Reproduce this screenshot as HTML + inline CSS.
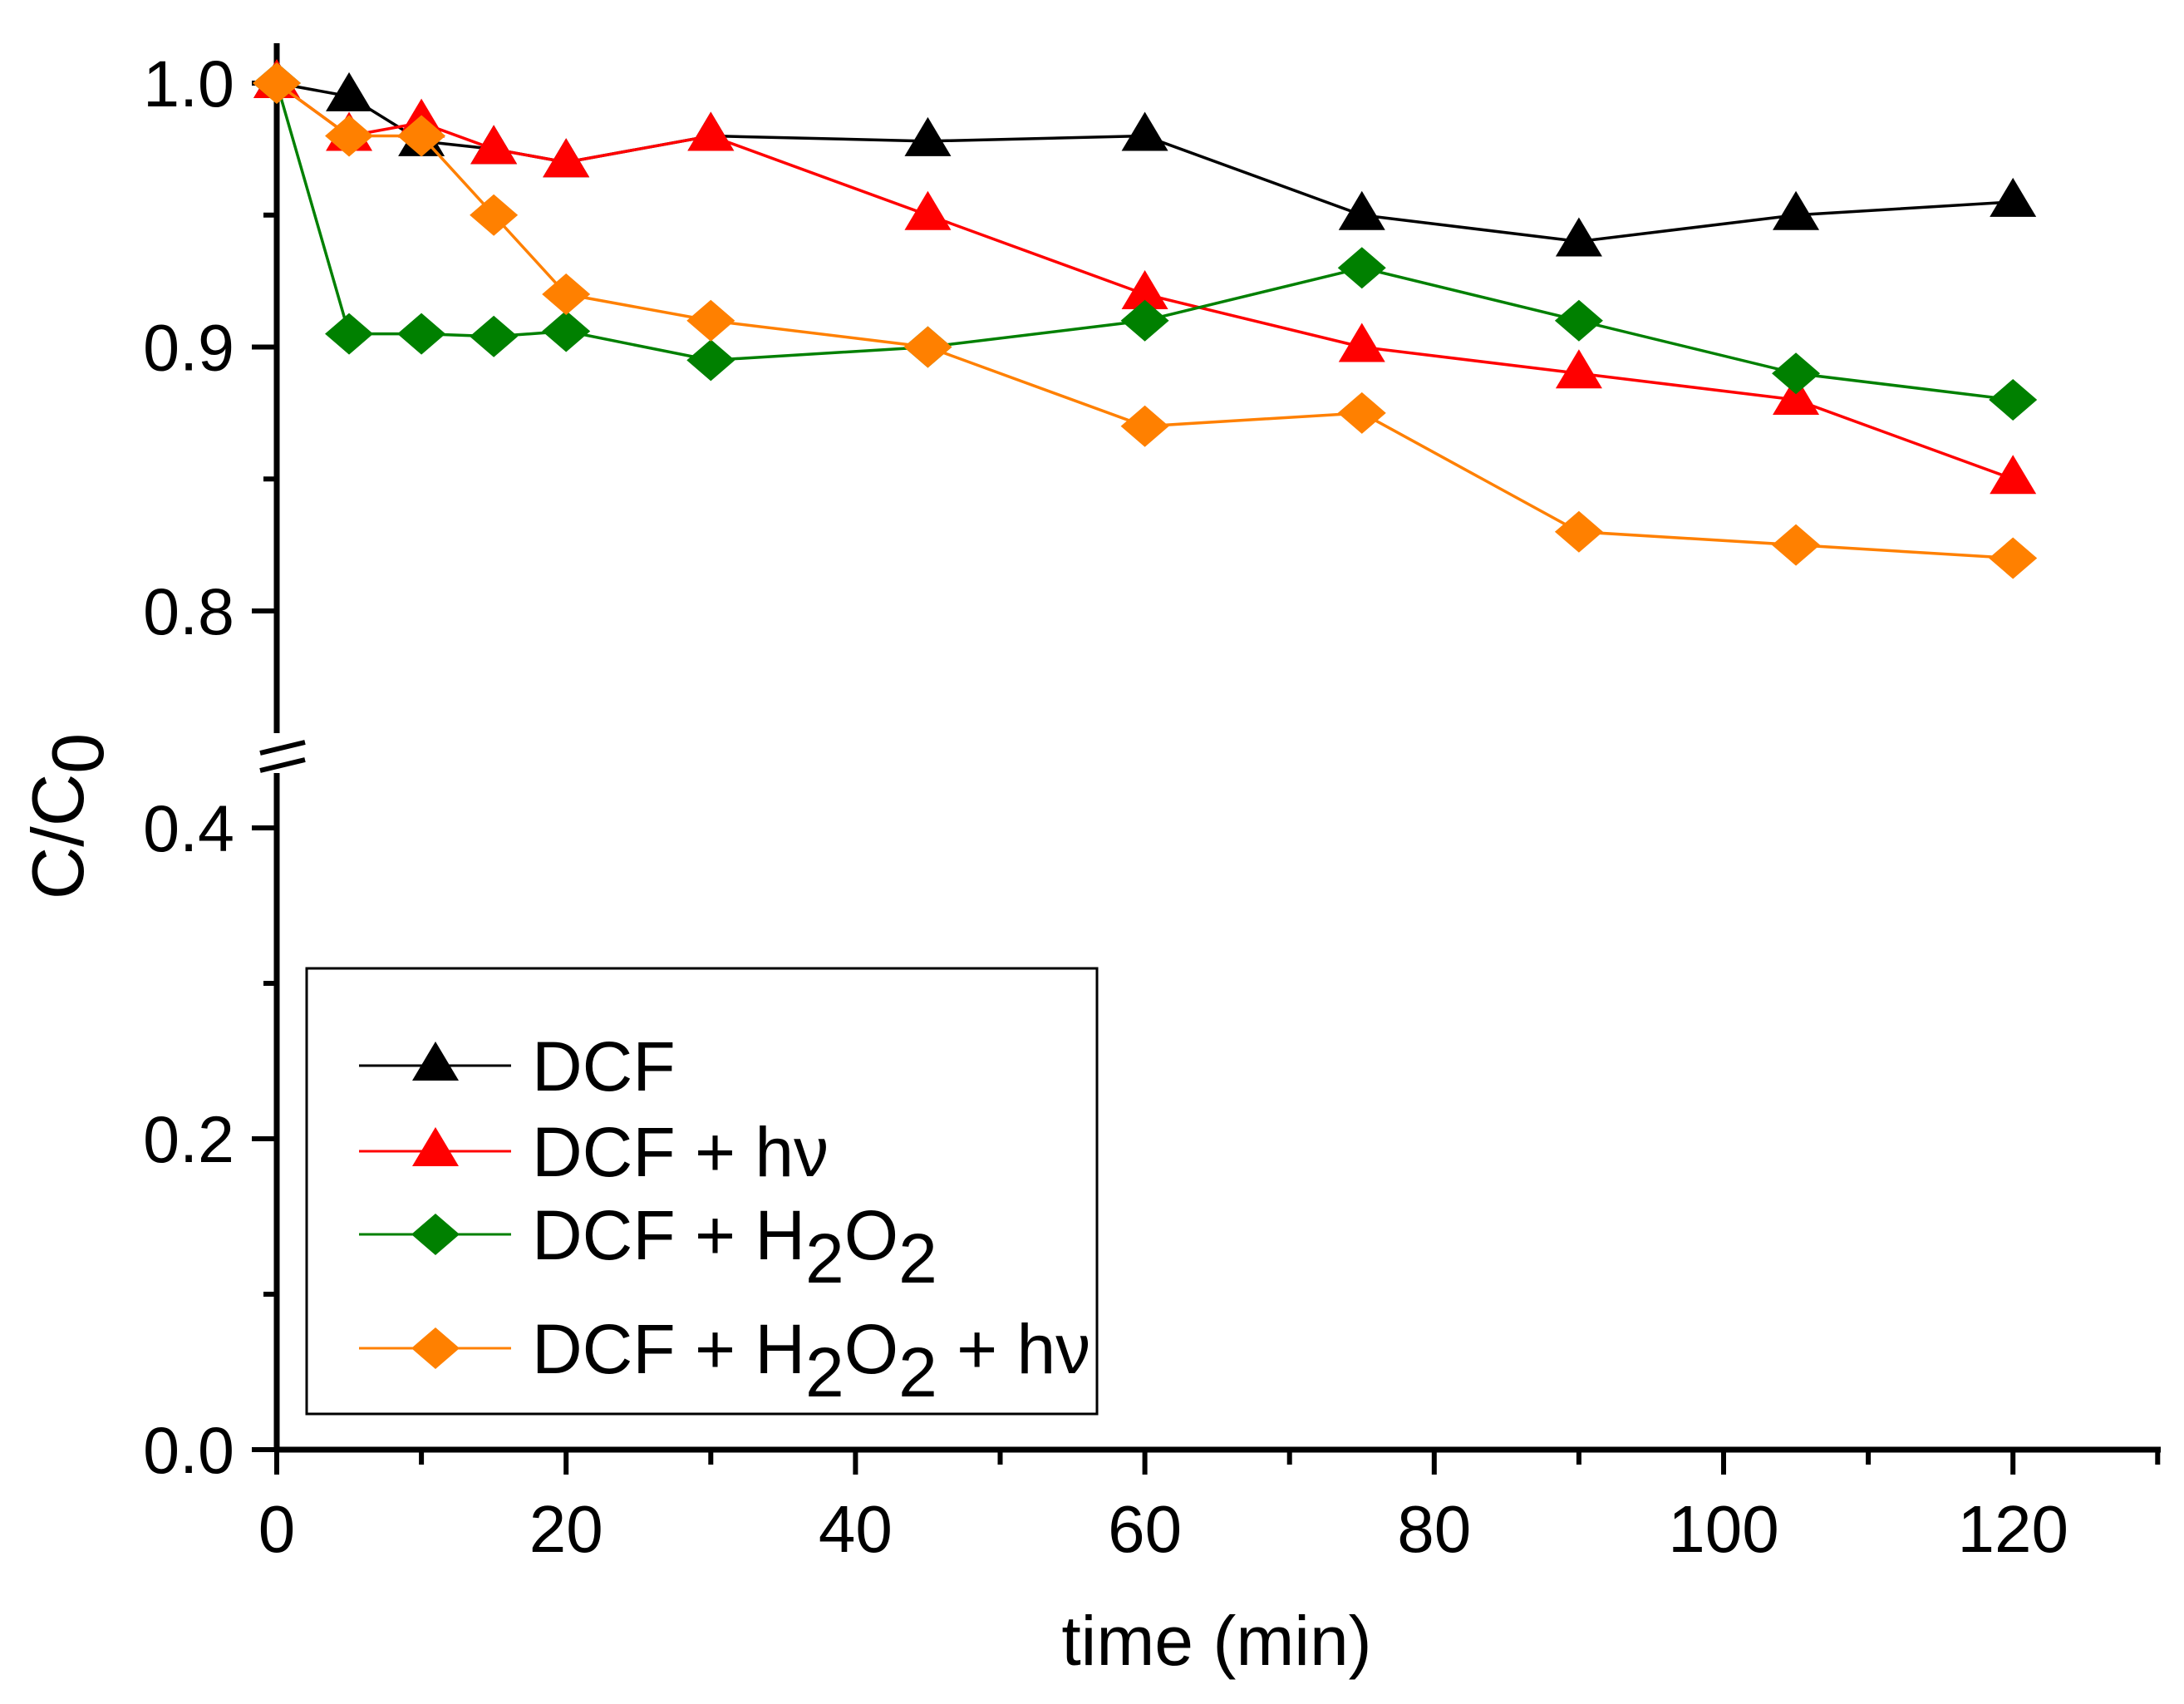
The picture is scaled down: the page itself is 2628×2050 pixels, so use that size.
<!DOCTYPE html>
<html><head><meta charset="utf-8"><style>
html,body{margin:0;padding:0;background:#fff;}
svg{display:block;font-family:"Liberation Sans",Arial,sans-serif;}
</style></head><body>
<svg id="chart" width="2628" height="2050" viewBox="0 0 2628 2050"></svg>
<script>
const times=[0,5,10,15,20,30,45,60,75,90,105,120];
const dcf=[1.0,0.995,0.978,0.975,0.97,0.98,0.978,0.98,0.95,0.94,0.95,0.955];
const dcfHv=[1.0,0.98,0.985,0.975,0.97,0.98,0.95,0.92,0.90,0.89,0.88,0.85];
const dcfH2o2=[1.0,0.905,0.905,0.904,0.906,0.895,0.90,0.91,0.93,0.91,0.89,0.88];
const dcfH2o2Hv=[1.0,0.98,0.98,0.95,0.92,0.91,0.90,0.87,0.875,0.83,0.825,0.82];
const xTicks=[0,20,40,60,80,100,120];
const xMinor=[10,30,50,70,90,110,130];
const yUpperTicks=[0.8,0.9,1.0];
const yUpperMinor=[0.85,0.95];
const yLowerTicks=[0.0,0.2,0.4];
const yLowerMinor=[0.1,0.3];

const NS="http://www.w3.org/2000/svg";
const svg=document.getElementById('chart');
function X(t){return 333+17.41*t;}
function Y(v){return v>=0.6?100+(1.0-v)*3175:1744-v*1870;}
function mk(tag,attrs,parent){const e=document.createElementNS(NS,tag);for(const k in attrs)e.setAttribute(k,attrs[k]);(parent||svg).appendChild(e);return e;}

const ax=mk('g',{});


mk('line',{x1:333,y1:52,x2:333,y2:882,stroke:'#000','stroke-width':7},ax);
mk('line',{x1:333,y1:930,x2:333,y2:1747,stroke:'#000','stroke-width':7},ax);
mk('line',{x1:313,y1:906,x2:367,y2:893,stroke:'#000','stroke-width':6},ax);
mk('line',{x1:313,y1:927,x2:367,y2:914,stroke:'#000','stroke-width':6},ax);
mk('line',{x1:330,y1:1744,x2:2600,y2:1744,stroke:'#000','stroke-width':7},ax);
function ytick(v,len){mk('line',{x1:333-len,y1:Y(v),x2:333,y2:Y(v),stroke:'#000','stroke-width':6},ax);}
function ylab(v){const t=mk('text',{x:282,y:Y(v)+28,'font-size':79,'text-anchor':'end'},ax);t.textContent=v.toFixed(1);

}
yUpperTicks.forEach(v=>{ytick(v,30);ylab(v);});
yUpperMinor.forEach(v=>ytick(v,16));
yLowerTicks.forEach(v=>{ytick(v,30);ylab(v);});
yLowerMinor.forEach(v=>ytick(v,16));
xTicks.forEach(t=>{mk('line',{x1:X(t),y1:1744,x2:X(t),y2:1774,stroke:'#000','stroke-width':6},ax);
const l=mk('text',{x:X(t),y:1867,'font-size':80,'text-anchor':'middle'},ax);l.textContent=t;

});
xMinor.forEach(t=>mk('line',{x1:X(t),y1:1744,x2:X(t),y2:1762,stroke:'#000','stroke-width':6},ax));
const xt=mk('text',{x:1464,y:2003,'font-size':84,'text-anchor':'middle'});xt.textContent='time (min)';


const yt=mk('text',{x:0,y:0,'font-size':88,'text-anchor':'middle',transform:'translate(100,982) rotate(-90)'});
yt.innerHTML='C/C<tspan dy="24">0</tspan>';



function marker(g,shape,x,y,color){
 if(shape==='tri'){mk('polygon',{points:`${x},${y-29} ${x-28},${y+18} ${x+28},${y+18}`,fill:color},g);}
 else{mk('polygon',{points:`${x},${y-25} ${x+29},${y} ${x},${y+25} ${x-29},${y}`,fill:color},g);}
}
const series=[[dcf,'#000','tri','series-dcf'],[dcfHv,'#ff0000','tri','series-dcf-hv'],[dcfH2o2,'#008000','dia','series-dcf-h2o2'],[dcfH2o2Hv,'#ff8000','dia','series-dcf-h2o2-hv']];
series.forEach(([vals,c,sh,name])=>{
 const g=mk('g',{});
 
 
 mk('polyline',{points:vals.map((v,i)=>X(times[i])+','+Y(v)).join(' '),fill:'none',stroke:c,'stroke-width':3.5},g);
 vals.forEach((v,i)=>marker(g,sh,X(times[i]),Y(v),c));
});

const lg=mk('g',{});


mk('rect',{x:369,y:1165,width:951,height:536,fill:'#fff',stroke:'#000','stroke-width':3},lg);
const labels=['DCF','DCF + h&#957;','DCF + H<tspan dy="28">2</tspan><tspan dy="-28">O</tspan><tspan dy="28">2</tspan>','DCF + H<tspan dy="28">2</tspan><tspan dy="-28">O</tspan><tspan dy="28">2</tspan><tspan dy="-28"> + h&#957;</tspan>'];
const rows=[1282,1385,1485,1622];
series.forEach(([vals,c,sh],i)=>{
 const e=mk('g',{},lg);
 
 
 mk('line',{x1:432,y1:rows[i],x2:615,y2:rows[i],stroke:c,'stroke-width':3},e);
 marker(e,sh,524,rows[i],c);
 const t=mk('text',{x:640,y:rows[i]+30,'font-size':84},e);t.innerHTML=labels[i];
});
</script>
</body></html>
